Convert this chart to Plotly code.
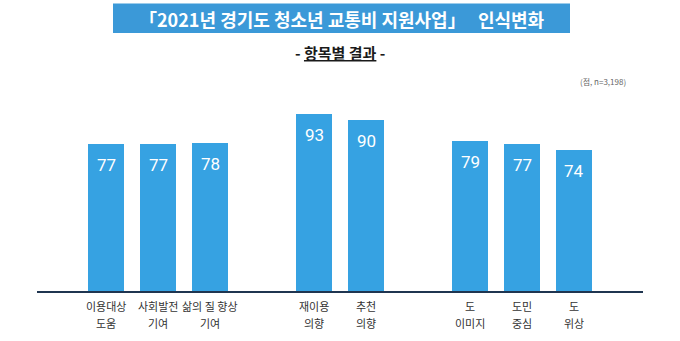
import plotly.graph_objects as go

# Survey items (two-line labels), their slot positions and scores
line1 = ["이용대상", "사회발전", "삶의 질 향상", "재이용", "추천", "도", "도민", "도"]
line2 = ["도움", "기여", "기여", "의향", "의향", "이미지", "중심", "위상"]
slots = [0, 1, 2, 4, 5, 7, 8, 9]
scores = [77, 77, 78, 93, 90, 79, 77, 74]

W, H = 680, 341
ML, MR, MT, MB = 37, 37, 100, 50
PW, PH = W - ML - MR, H - MT - MB


def px(x):
    return (x - ML) / PW


def py(y):
    return (H - MB - y) / PH


BAR = "#36a2e2"
BANNER = "#3b99d8"
KR = "Noto Sans CJK KR"

fig = go.Figure(
    go.Bar(
        x=slots,
        y=scores,
        width=0.69,
        marker=dict(color=BAR, line=dict(width=0)),
        hoverinfo="skip",
    )
)

# score labels inside the top of each bar
for s, v in zip(slots, scores):
    fig.add_annotation(
        x=s, y=v, xref="x", yref="y", text=str(v), showarrow=False,
        yanchor="middle", yshift=-21,
        font=dict(family="Roboto", size=17, color="white"),
    )

# two-line category labels under the axis
for s, a, b in zip(slots, line1, line2):
    fig.add_annotation(
        x=s, y=0, xref="x", yref="y", text=a, showarrow=False,
        yanchor="middle", yshift=-15,
        font=dict(family=KR, size=11, color="#333333"),
    )
    fig.add_annotation(
        x=s, y=0, xref="x", yref="y", text=b, showarrow=False,
        yanchor="middle", yshift=-32,
        font=dict(family=KR, size=11, color="#333333"),
    )

# title banner
fig.add_shape(
    type="rect", xref="paper", yref="paper",
    x0=px(113), x1=px(570), y0=py(33), y1=py(3.5),
    fillcolor=BANNER, line=dict(width=0), layer="below",
)
fig.add_annotation(
    x=px(341.5), y=py(18.5), xref="paper", yref="paper",
    text="<b>「2021년 경기도 청소년 교통비 지원사업」   인식변화</b>",
    showarrow=False, xanchor="center", yanchor="middle",
    font=dict(family=KR, size=18, color="white"),
)
fig.add_annotation(
    x=px(340), y=py(53), xref="paper", yref="paper",
    text="<b>- <u>항목별 결과</u> -</b>",
    showarrow=False, xanchor="center", yanchor="middle",
    font=dict(family=KR, size=15, color="#1a1a1a"),
)
fig.add_annotation(
    x=px(628), y=py(81), xref="paper", yref="paper",
    text="(점, n=3,198)",
    showarrow=False, xanchor="right", yanchor="middle",
    font=dict(family=KR, size=8, color="#666666"),
)

fig.update_layout(
    width=W, height=H,
    margin=dict(l=ML, r=MR, t=MT, b=MB, pad=0),
    paper_bgcolor="white", plot_bgcolor="white",
    showlegend=False, bargap=0,
    xaxis=dict(
        range=[-1.327, 10.327], showgrid=False, zeroline=False,
        showticklabels=False, ticks="",
        showline=True, linecolor="#1f3550", linewidth=2,
        fixedrange=True,
    ),
    yaxis=dict(
        range=[0, PH / 1.903], showgrid=False, zeroline=False,
        showticklabels=False, ticks="", showline=False, fixedrange=True,
    ),
)

fig.write_html("out.html", config={"displayModeBar": False})
